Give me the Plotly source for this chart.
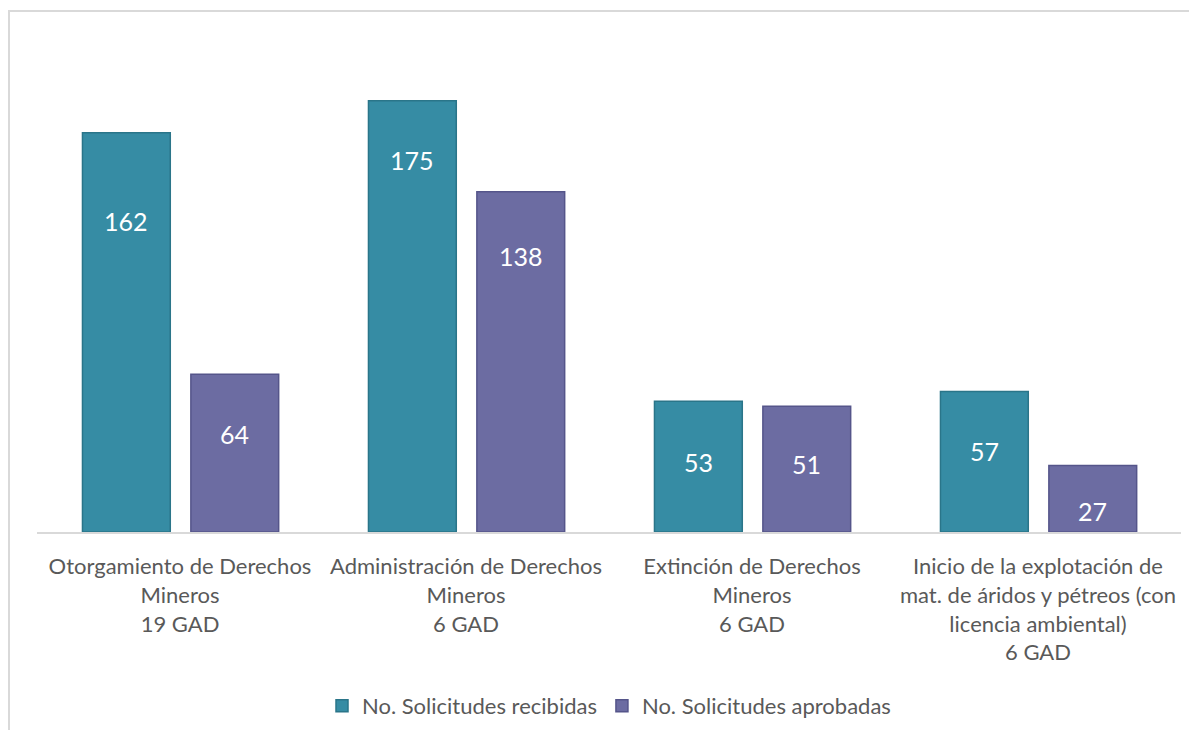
import plotly.graph_objects as go

categories = [
    "Otorgamiento de Derechos<br>Mineros<br>19 GAD",
    "Administración de Derechos<br>Mineros<br>6 GAD",
    "Extinción de Derechos<br>Mineros<br>6 GAD",
    "Inicio de la explotación de<br>mat. de áridos y pétreos (con<br>licencia ambiental)<br>6 GAD",
]
recibidas = [162, 175, 53, 57]
aprobadas = [64, 138, 51, 27]
series_names = ["No. Solicitudes recibidas", "No. Solicitudes aprobadas"]

# label offsets (px below bar top), style only
label_shift_rec = [-88, -59, -61, -59]
label_shift_apr = [-60, -64, -58, -46]

# page has an 8px body margin; figure sized to fit the window
W, H = 1181, 722
ml, mr, mt, mb = 29, 8, 31, 198

teal = "#368CA4"
teal_edge = "#2A7589"
purple = "#6C6CA2"
purple_edge = "#55558A"

x_idx = list(range(len(categories)))

fig = go.Figure()
fig.add_trace(go.Bar(
    x=x_idx, y=recibidas, name=series_names[0],
    width=0.307, offset=-0.341,
    marker=dict(color=teal, line=dict(color=teal_edge, width=1.5)),
))
fig.add_trace(go.Bar(
    x=x_idx, y=aprobadas, name=series_names[1],
    width=0.307, offset=0.038,
    marker=dict(color=purple, line=dict(color=purple_edge, width=1.5)),
))

annotations = []
for i, v in enumerate(recibidas):
    annotations.append(dict(x=i - 0.341 + 0.307 / 2, y=v, xref="x", yref="y",
                            text=str(v), showarrow=False, yanchor="middle",
                            yshift=label_shift_rec[i],
                            font=dict(family="Lato", size=25, color="white")))
for i, v in enumerate(aprobadas):
    annotations.append(dict(x=i + 0.038 + 0.307 / 2, y=v, xref="x", yref="y",
                            text=str(v), showarrow=False, yanchor="middle",
                            yshift=label_shift_apr[i],
                            font=dict(family="Lato", size=25, color="white")))

pw = W - ml - mr
ph = H - mt - mb
def px_to_paper_x(px):
    return (px - ml) / pw
def px_to_paper_y(py):
    return (H - mb - py) / ph

shapes = [
    dict(type="rect", xref="paper", yref="paper",
         x0=px_to_paper_x(1), x1=px_to_paper_x(1200),
         y0=px_to_paper_y(740), y1=px_to_paper_y(3),
         line=dict(color="#D9D9D9", width=2), fillcolor="rgba(0,0,0,0)", layer="below"),
]

fig.update_layout(
    width=W, height=H,
    margin=dict(l=ml, r=mr, t=mt, b=mb, autoexpand=False),
    paper_bgcolor="white", plot_bgcolor="white",
    barmode="group",
    showlegend=True,
    legend=dict(orientation="h", x=0.5, xanchor="center", y=px_to_paper_y(698), yanchor="middle",
                font=dict(family="Lato", size=22, color="#595959"),
                traceorder="normal"),
    annotations=annotations,
    shapes=shapes,
    font=dict(family="Lato", color="#595959"),
)
fig.update_xaxes(
    range=[-0.5, len(categories) - 0.5],
    tickvals=x_idx, ticktext=categories,
    tickfont=dict(family="Lato", size=22, color="#595959"),
    ticklabelstandoff=14,
    showline=True, linecolor="#D9D9D9", linewidth=2,
    ticks="", showgrid=False, zeroline=False,
)
fig.update_yaxes(range=[0, 200], visible=False, showgrid=False, zeroline=False)

fig.write_html("out.html")
